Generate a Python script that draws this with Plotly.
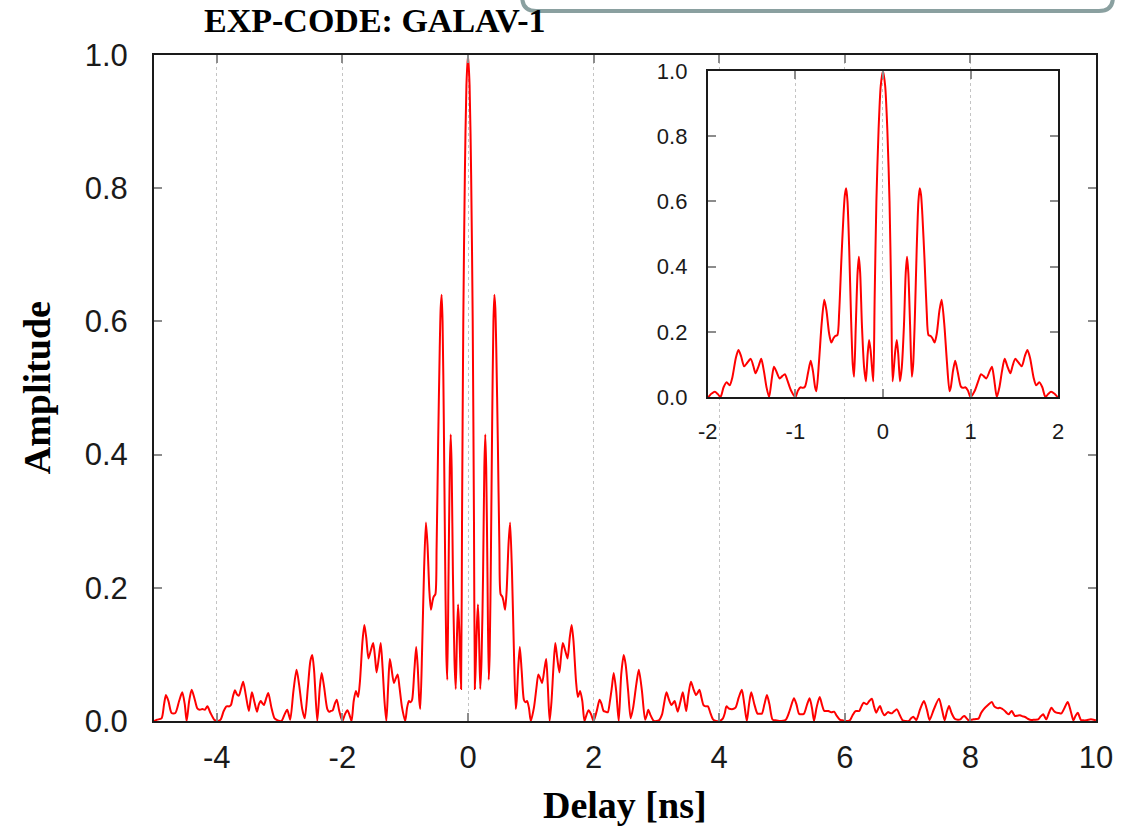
import plotly.graph_objects as go

# ---- delay function samples (delay in ns, normalised amplitude) ----
delay_wing_left = [-5.00, -4.95, -4.88, -4.84, -4.81, -4.77, -4.72, -4.66, -4.60, -4.55,
                   -4.51, -4.48, -4.44, -4.40, -4.35, -4.31, -4.27, -4.23, -4.19, -4.15,
                   -4.10, -4.04, -3.99, -3.94, -3.89, -3.845, -3.80, -3.775, -3.74, -3.71,
                   -3.68, -3.65, -3.61, -3.58, -3.54, -3.49, -3.465, -3.44, -3.40, -3.36,
                   -3.33, -3.30, -3.27, -3.25, -3.21, -3.18, -3.13, -3.08, -3.03, -2.97,
                   -2.92, -2.88, -2.855, -2.83, -2.78, -2.73, -2.69, -2.64, -2.60, -2.55,
                   -2.51, -2.48, -2.45, -2.40, -2.36, -2.33, -2.29, -2.24, -2.21, -2.185,
                   -2.155, -2.12, -2.09, -2.05]
amp_wing_left = [0.000, 0.002, 0.004, 0.025, 0.039, 0.030, 0.012, 0.012, 0.030, 0.043,
                 0.025, 0.000, 0.030, 0.047, 0.032, 0.019, 0.017, 0.018, 0.017, 0.022,
                 0.012, 0.002, 0.000, 0.002, 0.015, 0.022, 0.022, 0.024, 0.038, 0.046,
                 0.040, 0.038, 0.050, 0.059, 0.040, 0.015, 0.030, 0.043, 0.028, 0.014,
                 0.025, 0.030, 0.026, 0.024, 0.035, 0.042, 0.020, 0.004, 0.001, 0.000,
                 0.010, 0.017, 0.010, 0.002, 0.045, 0.077, 0.055, 0.018, 0.004, 0.050,
                 0.090, 0.099, 0.075, 0.000, 0.050, 0.072, 0.050, 0.018, 0.014, 0.015,
                 0.016, 0.026, 0.032, 0.015]

delay_core_left = [-2.00, -1.96, -1.92, -1.89, -1.855, -1.82, -1.785, -1.75, -1.72, -1.68,
                   -1.65, -1.62, -1.585, -1.55, -1.51, -1.48, -1.455, -1.42, -1.39, -1.36,
                   -1.33, -1.30, -1.27, -1.245, -1.22, -1.18, -1.15, -1.12, -1.09, -1.05,
                   -1.00, -0.97, -0.94, -0.915, -0.89, -0.855, -0.825, -0.80, -0.775, -0.76,
                   -0.73, -0.70, -0.67, -0.645, -0.615, -0.59, -0.565, -0.545, -0.52, -0.50,
                   -0.475, -0.45, -0.435, -0.42, -0.405, -0.385, -0.365, -0.345, -0.33, -0.31,
                   -0.29, -0.275, -0.26, -0.24, -0.215, -0.195, -0.175, -0.158, -0.14, -0.125,
                   -0.11, -0.095, -0.075, -0.05, -0.025]
amp_core_left = [0.000, 0.010, 0.016, 0.010, 0.000, 0.030, 0.045, 0.036, 0.060, 0.120,
                 0.144, 0.125, 0.094, 0.105, 0.117, 0.095, 0.073, 0.095, 0.117, 0.080,
                 0.030, 0.000, 0.055, 0.093, 0.080, 0.057, 0.064, 0.070, 0.050, 0.020,
                 0.000, 0.020, 0.030, 0.028, 0.032, 0.075, 0.111, 0.080, 0.030, 0.018,
                 0.110, 0.225, 0.298, 0.265, 0.195, 0.167, 0.180, 0.187, 0.190, 0.260,
                 0.420, 0.560, 0.620, 0.640, 0.600, 0.450, 0.250, 0.100, 0.062, 0.220,
                 0.380, 0.430, 0.380, 0.220, 0.090, 0.048, 0.130, 0.175, 0.140, 0.090,
                 0.048, 0.300, 0.600, 0.820, 0.955]

delay_core_right = [0.00, 0.025, 0.05, 0.075, 0.095, 0.11, 0.125, 0.14, 0.158, 0.175,
                    0.195, 0.215, 0.24, 0.26, 0.275, 0.29, 0.31, 0.33, 0.345, 0.365,
                    0.385, 0.405, 0.42, 0.435, 0.45, 0.475, 0.50, 0.52, 0.545, 0.565,
                    0.59, 0.615, 0.645, 0.67, 0.70, 0.73, 0.76, 0.775, 0.80, 0.825,
                    0.855, 0.89, 0.915, 0.94, 0.97, 1.00, 1.05, 1.09, 1.12, 1.15,
                    1.18, 1.22, 1.245, 1.27, 1.30, 1.33, 1.36, 1.39, 1.42, 1.455,
                    1.48, 1.51, 1.55, 1.585, 1.62, 1.65, 1.68, 1.72, 1.75, 1.785,
                    1.82, 1.855, 1.89, 1.92, 1.96]
amp_core_right = [1.000, 0.955, 0.820, 0.600, 0.300, 0.048, 0.090, 0.140, 0.175, 0.130,
                  0.048, 0.090, 0.220, 0.380, 0.430, 0.380, 0.220, 0.062, 0.100, 0.250,
                  0.450, 0.600, 0.640, 0.620, 0.560, 0.420, 0.260, 0.190, 0.187, 0.180,
                  0.167, 0.195, 0.265, 0.298, 0.225, 0.110, 0.018, 0.030, 0.080, 0.111,
                  0.075, 0.032, 0.028, 0.030, 0.020, 0.000, 0.020, 0.050, 0.070, 0.064,
                  0.057, 0.080, 0.093, 0.055, 0.000, 0.030, 0.080, 0.117, 0.095, 0.073,
                  0.095, 0.117, 0.105, 0.094, 0.125, 0.144, 0.120, 0.060, 0.036, 0.045,
                  0.030, 0.000, 0.010, 0.016, 0.010]

delay_wing_right = [2.00, 2.05, 2.095, 2.125, 2.16, 2.19, 2.225, 2.26, 2.29, 2.32,
                    2.36, 2.40, 2.44, 2.48, 2.51, 2.55, 2.59, 2.63, 2.68, 2.72,
                    2.77, 2.82, 2.85, 2.87, 2.91, 2.96, 3.04, 3.09, 3.12, 3.16,
                    3.20, 3.24, 3.265, 3.29, 3.315, 3.34, 3.38, 3.42, 3.45, 3.475,
                    3.51, 3.55, 3.59, 3.63, 3.655, 3.685, 3.72, 3.75, 3.785, 3.82,
                    3.86, 3.905, 3.95, 4.00, 4.06, 4.09, 4.115, 4.15, 4.18, 4.22,
                    4.26, 4.31, 4.36, 4.40, 4.44, 4.475, 4.51, 4.56, 4.61, 4.645,
                    4.68, 4.72, 4.76, 4.80, 4.85, 4.90, 4.955, 5.06, 5.12, 5.19,
                    5.23, 5.27, 5.31, 5.35, 5.40, 5.44, 5.48, 5.51, 5.55, 5.60,
                    5.635, 5.67, 5.705, 5.74, 5.785, 5.83, 5.87, 5.92, 5.96]
amp_wing_right = [0.000, 0.015, 0.032, 0.026, 0.015, 0.014, 0.013, 0.030, 0.050, 0.072,
                  0.045, 0.000, 0.070, 0.099, 0.085, 0.045, 0.004, 0.020, 0.055, 0.077,
                  0.045, 0.002, 0.010, 0.017, 0.008, 0.000, 0.001, 0.010, 0.025, 0.043,
                  0.032, 0.024, 0.027, 0.030, 0.022, 0.014, 0.028, 0.043, 0.028, 0.015,
                  0.040, 0.059, 0.048, 0.039, 0.042, 0.047, 0.034, 0.024, 0.022, 0.022,
                  0.012, 0.002, 0.000, 0.000, 0.004, 0.012, 0.022, 0.019, 0.018, 0.018,
                  0.020, 0.035, 0.047, 0.025, 0.000, 0.025, 0.043, 0.025, 0.011, 0.011,
                  0.011, 0.025, 0.039, 0.025, 0.002, 0.001, 0.000, 0.002, 0.015, 0.034,
                  0.025, 0.011, 0.010, 0.011, 0.025, 0.034, 0.018, 0.000, 0.020, 0.036,
                  0.025, 0.0155, 0.015, 0.015, 0.013, 0.014, 0.008, 0.002, 0.001]

delay_tail = [6.00, 6.08, 6.12, 6.17, 6.23, 6.265, 6.30, 6.35, 6.39, 6.43,
              6.465, 6.50, 6.53, 6.56, 6.595, 6.63, 6.66, 6.69, 6.72, 6.75,
              6.79, 6.83, 6.875, 6.92, 6.97, 7.02, 7.055, 7.09, 7.115, 7.14,
              7.20, 7.26, 7.31, 7.35, 7.42, 7.50, 7.55, 7.59, 7.625, 7.66,
              7.70, 7.75, 7.80, 7.84, 7.875, 7.905, 7.94, 7.97, 8.01, 8.05,
              8.09, 8.13, 8.17, 8.21, 8.28, 8.34, 8.38, 8.41, 8.44, 8.47,
              8.51, 8.55, 8.58, 8.61, 8.635, 8.66, 8.685, 8.71, 8.75, 8.79,
              8.83, 8.87, 8.92, 8.97, 9.02, 9.08, 9.12, 9.16, 9.185, 9.21,
              9.25, 9.29, 9.33, 9.37, 9.41, 9.45, 9.50, 9.55, 9.60, 9.64,
              9.675, 9.71, 9.735, 9.76, 9.80, 9.84, 9.88, 9.92, 9.96, 10.00]
amp_tail = [0.000, 0.001, 0.008, 0.015, 0.015, 0.022, 0.0275, 0.025, 0.030, 0.0335,
            0.022, 0.0125, 0.018, 0.0225, 0.014, 0.0085, 0.011, 0.0135, 0.012, 0.0115,
            0.015, 0.0175, 0.009, 0.001, 0.000, 0.000, 0.004, 0.0065, 0.004, 0.0015,
            0.018, 0.030, 0.016, 0.0015, 0.018, 0.0335, 0.016, 0.001, 0.014, 0.0225,
            0.012, 0.0035, 0.002, 0.0025, 0.006, 0.0075, 0.004, 0.001, 0.002, 0.0025,
            0.003, 0.0035, 0.012, 0.0175, 0.024, 0.0285, 0.022, 0.020, 0.019, 0.020,
            0.018, 0.015, 0.012, 0.010, 0.013, 0.015, 0.011, 0.0075, 0.008, 0.0085,
            0.007, 0.006, 0.003, 0.0015, 0.002, 0.0025, 0.007, 0.010, 0.006, 0.0025,
            0.012, 0.020, 0.015, 0.0125, 0.012, 0.0115, 0.020, 0.0285, 0.014, 0.001,
            0.008, 0.0125, 0.007, 0.0015, 0.001, 0.001, 0.002, 0.0025, 0.002, 0.001]

delay = delay_wing_left + delay_core_left + delay_core_right + delay_wing_right + delay_tail
amplitude = amp_wing_left + amp_core_left + amp_core_right + amp_wing_right + amp_tail

main_xticks = [-4, -2, 0, 2, 4, 6, 8, 10]
inset_xticks = [-2, -1, 0, 1, 2]
amp_ticks = [0.0, 0.2, 0.4, 0.6, 0.8, 1.0]
amp_ticktext = ["0.0", "0.2", "0.4", "0.6", "0.8", "1.0"]

title_text = "EXP-CODE: GALAV-1"
x_title = "Delay [ns]"
y_title = "Amplitude"

# ---- page geometry (pixels) ----
W, H = 1125, 826
PL, PR, PT, PB = 154, 1098, 55, 721          # main plotting box
IL, IR, IT, IB = 709, 1060, 71, 397          # inset box


def px(X):
    return (X - PL) / (PR - PL)


def py(Y):
    return (PB - Y) / (PB - PT)


curve = dict(color="#ff0000", width=2, shape="spline", smoothing=0.7)

fig = go.Figure()
fig.add_trace(go.Scatter(x=delay, y=amplitude, mode="lines", line=curve,
                         xaxis="x", yaxis="y", showlegend=False))
fig.add_trace(go.Scatter(x=delay, y=amplitude, mode="lines", line=curve,
                         xaxis="x2", yaxis="y2", showlegend=False))

sans = "Liberation Sans, Arial, Helvetica, sans-serif"
serif = "Liberation Serif, Times New Roman, serif"
frame = dict(showline=True, linecolor="#1a1a1a", linewidth=2, mirror="ticks",
             ticks="inside", tickcolor="#8c8c8c", tickwidth=1.5, zeroline=False)
grid = dict(showgrid=True, gridcolor="#c4c4c4", griddash="dot", gridwidth=1)

fig.update_layout(
    width=W, height=H,
    margin=dict(l=PL, r=W - PR, t=PT, b=H - PB, pad=0),
    paper_bgcolor="white", plot_bgcolor="white",
    xaxis=dict(domain=[0, 1], range=[-5, 10], tickvals=main_xticks,
               ticktext=[str(v) for v in main_xticks], ticklen=8,
               tickfont=dict(family=sans, size=31, color="#1a1a1a"),
               ticklabelstandoff=8, **grid, **frame),
    yaxis=dict(domain=[0, 1], range=[0, 1], tickvals=amp_ticks, ticktext=amp_ticktext,
               ticklen=8, showgrid=False,
               tickfont=dict(family=sans, size=31, color="#1a1a1a"),
               ticklabelstandoff=18, **frame),
    xaxis2=dict(domain=[px(IL), px(IR)], anchor="y2", range=[-2, 2],
                tickvals=inset_xticks, ticktext=[str(v) for v in inset_xticks],
                ticklen=8, tickfont=dict(family=sans, size=22, color="#1a1a1a"),
                ticklabelstandoff=14, **grid, **frame),
    yaxis2=dict(domain=[py(IB), py(IT)], anchor="x2", range=[0, 1],
                tickvals=amp_ticks, ticktext=amp_ticktext, ticklen=8, showgrid=False,
                tickfont=dict(family=sans, size=22, color="#1a1a1a"),
                ticklabelstandoff=14, **frame),
)

# titles
fig.add_annotation(text=title_text, xref="paper", yref="paper", x=px(375), y=py(21),
                   xanchor="center", yanchor="middle", showarrow=False,
                   font=dict(family=serif, size=34, color="#000000", weight="bold"))
fig.add_annotation(text=x_title, xref="paper", yref="paper", x=px(626), y=py(805),
                   xanchor="center", yanchor="middle", showarrow=False,
                   font=dict(family=serif, size=38, color="#000000", weight="bold"))
fig.add_annotation(text=y_title, xref="paper", yref="paper", x=px(37), y=py(388),
                   xanchor="center", yanchor="middle", showarrow=False, textangle=-90,
                   font=dict(family=serif, size=38, color="#000000", weight="bold"))

# rounded frame running off the top edge of the page
bx0, bx1, by, btop, rad = 523, 1115, 11, -40, 14
box_path = (f"M {px(bx0)},{py(btop)} L {px(bx0)},{py(by - rad)} "
            f"Q {px(bx0)},{py(by)} {px(bx0 + rad)},{py(by)} "
            f"L {px(bx1 - rad)},{py(by)} "
            f"Q {px(bx1)},{py(by)} {px(bx1)},{py(by - rad)} "
            f"L {px(bx1)},{py(btop)}")
fig.add_shape(type="path", path=box_path, xref="paper", yref="paper",
              line=dict(color="#8aa0a0", width=4))

fig.write_html("out.html")
